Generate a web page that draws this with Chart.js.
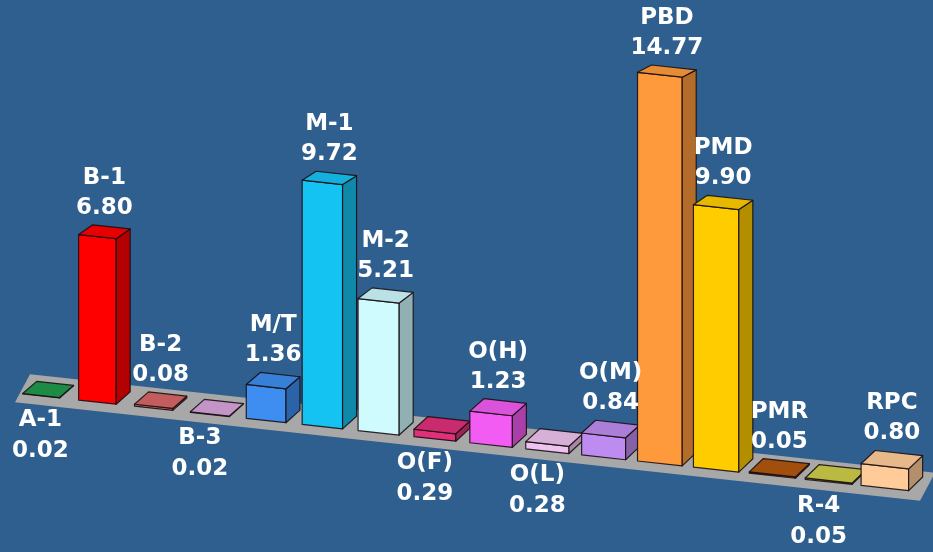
<!DOCTYPE html>
<html>
<head>
<meta charset="utf-8">
<script src="https://cdn.jsdelivr.net/npm/chart.js@4.4.1/dist/chart.umd.min.js"></script>
<style>
  html, body { margin: 0; padding: 0; background: #2E5F8F; }
  canvas { display: block; }
</style>
</head>
<body>
<canvas id="chart" width="933" height="552"></canvas>
<script>
const categories = ['A-1', 'B-1', 'B-2', 'B-3', 'M/T', 'M-1', 'M-2', 'O(F)', 'O(H)', 'O(L)', 'O(M)', 'PBD', 'PMD', 'PMR', 'R-4', 'RPC'];
const values = [0.02, 6.80, 0.08, 0.02, 1.36, 9.72, 5.21, 0.29, 1.23, 0.28, 0.84, 14.77, 9.90, 0.05, 0.05, 0.80];
const barColors = ['#1F9A4A', '#FF0000', '#D96666', '#D9A6DC', '#3D8EF0', '#14C3F2', '#CFFBFF', '#E0307A',
                   '#F25CF2', '#EFC3EF', '#BE8CF0', '#FF9A3C', '#FFCC00', '#B4580F', '#CFCF4A', '#FFCC99'];
// these get their label under the floor instead of above the bar
const labelsBelow = ['A-1', 'B-3', 'O(F)', 'O(L)', 'R-4'];

const SLOPE = 0.109;   // tilt of the floor
const DEPTH_X = 14;

function shade(hex, f) {
  const n = parseInt(hex.slice(1), 16);
  const r = Math.round(((n >> 16) & 255) * f);
  const g = Math.round(((n >> 8) & 255) * f);
  const b = Math.round((n & 255) * f);
  return `rgb(${r},${g},${b})`;
}

function baseAt(area, x) {
  return area.bottom + SLOPE * (x - (area.left + area.right) / 2);
}

function depthY(y) {
  return -(7 + 0.015 * (y - 50));
}

function poly(ctx, pts, fill) {
  ctx.beginPath();
  ctx.moveTo(pts[0][0], pts[0][1]);
  for (let i = 1; i < pts.length; i++) ctx.lineTo(pts[i][0], pts[i][1]);
  ctx.closePath();
  ctx.fillStyle = fill;
  ctx.fill();
  ctx.stroke();
}

const bars3d = {
  id: 'bars3d',
  beforeDraw(chart) {
    const ctx = chart.ctx;
    ctx.save();
    ctx.fillStyle = '#2E5F8F';
    ctx.fillRect(0, 0, chart.width, chart.height);
    ctx.restore();
  },
  beforeDatasetsDraw(chart) {
    // gray floor under the bars
    const ctx = chart.ctx;
    const a = chart.chartArea;
    const l = 15, r = 920;
    ctx.save();
    ctx.beginPath();
    ctx.moveTo(l, baseAt(a, l) + 9);
    ctx.lineTo(r, baseAt(a, r) + 9);
    ctx.lineTo(r + 15, baseAt(a, r) - 19);
    ctx.lineTo(l + 15, baseAt(a, l) - 19);
    ctx.closePath();
    ctx.fillStyle = '#A8A8A8';
    ctx.fill();
    ctx.restore();
  },
  beforeDatasetDraw() {
    return false;
  },
  afterDatasetsDraw(chart) {
    const ctx = chart.ctx;
    const a = chart.chartArea;
    const mid = (a.left + a.right) / 2;
    const meta = chart.getDatasetMeta(0);
    const tops = [];
    ctx.save();
    ctx.lineWidth = 1.2;
    ctx.strokeStyle = 'rgba(25,15,20,0.9)';
    ctx.lineJoin = 'round';
    meta.data.forEach((el, i) => {
      const p = el.getProps(['x', 'y', 'base', 'width'], true);
      const cx = p.x;
      const w = p.width * (1 + 0.0003 * (cx - mid));
      const h = (p.base - p.y) * (1 + 0.000137 * (cx - mid));
      const x0 = cx - w / 2, x1 = cx + w / 2;
      const b0 = baseAt(a, x0), b1 = baseAt(a, x1);
      const t0 = b0 - h, t1 = b1 - h;
      const dyT = depthY(t0), dyB = depthY(b1);
      const col = barColors[i];
      poly(ctx, [[x0, b0], [x1, b1], [x1, t1], [x0, t0]], col);
      poly(ctx, [[x1, b1], [x1 + DEPTH_X, b1 + dyB], [x1 + DEPTH_X, t1 + dyT], [x1, t1]], shade(col, 0.7));
      poly(ctx, [[x0, t0], [x1, t1], [x1 + DEPTH_X, t1 + dyT], [x0 + DEPTH_X, t0 + dyT]], shade(col, 0.9));
      tops.push({ cx, top: Math.min(t0, t1) + dyT });
    });

    ctx.fillStyle = '#FFFFFF';
    ctx.font = 'bold 23px "DejaVu Sans"';
    ctx.textAlign = 'center';
    ctx.textBaseline = 'middle';
    tops.forEach((t, i) => {
      const name = categories[i];
      const val = values[i].toFixed(2);
      const half = Math.max(ctx.measureText(name).width, ctx.measureText(val).width) / 2;
      if (labelsBelow.includes(name)) {
        const x = Math.max(t.cx - 10, half + 12);
        const y = baseAt(a, t.cx) + 24;
        ctx.fillText(name, x, y);
        ctx.fillText(val, x, y + 31);
      } else {
        const x = t.cx + DEPTH_X / 2;
        const y = t.top - 17;
        ctx.fillText(name, x, y - 30);
        ctx.fillText(val, x, y);
      }
    });
    ctx.restore();
  }
};

new Chart(document.getElementById('chart'), {
  type: 'bar',
  data: {
    labels: categories,
    datasets: [{
      data: values,
      backgroundColor: barColors,
      barPercentage: 0.75,
      categoryPercentage: 1
    }]
  },
  options: {
    responsive: false,
    devicePixelRatio: 1,
    animation: false,
    events: [],
    layout: { padding: { left: 13, right: 20, top: 32, bottom: 110 } },
    plugins: { legend: { display: false }, tooltip: { enabled: false } },
    scales: {
      x: { display: false },
      y: { display: false, min: 0, max: 16 }
    }
  },
  plugins: [bars3d]
});
</script>
</body>
</html>
